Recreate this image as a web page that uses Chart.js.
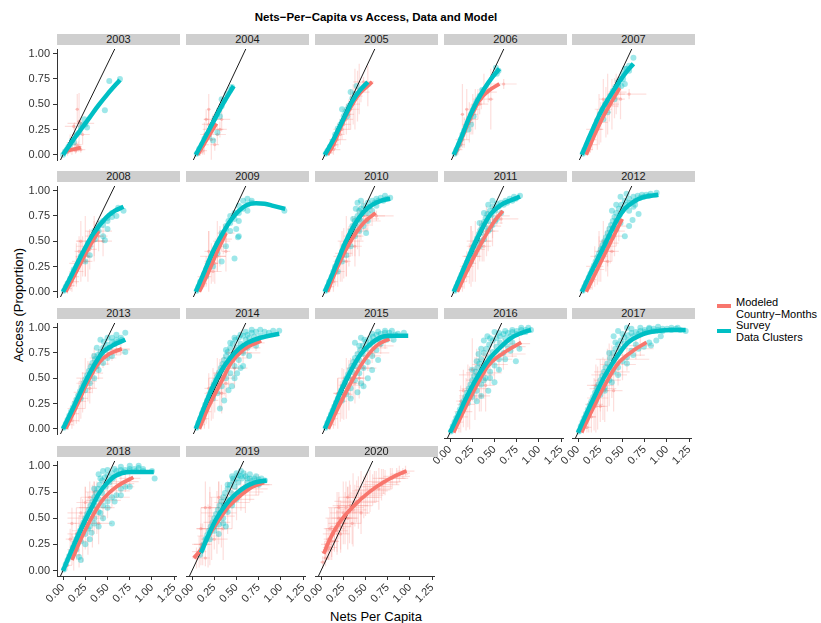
<!DOCTYPE html>
<html>
<head>
<meta charset="utf-8">
<script src="https://cdn.jsdelivr.net/npm/chart.js@4.4.0/dist/chart.umd.min.js"></script>
<style>
  body { margin: 0; background: #fff; font-family: "Liberation Sans", Arial, sans-serif; }
  #wrap { position: relative; width: 821px; height: 623px; overflow: hidden; }
  .strip { position: absolute; background: #cfcfcf; color: #1a1a1a; font-size: 11px; line-height: 11px; text-align: center; }
  canvas { position: absolute; }
  .lbl { position: absolute; white-space: nowrap; color: #000; }
  .key { position: absolute; width: 14px; height: 4px; }
</style>
</head>
<body>
<div id="wrap">
  <div class="lbl" style="left:0;width:752px;top:11px;text-align:center;font-weight:bold;font-size:11.5px;">Nets−Per−Capita vs Access, Data and Model</div>
  <div class="lbl" style="left:18px;top:305px;font-size:13px;transform:translate(-50%,-50%) rotate(-90deg);">Access (Proportion)</div>
  <div class="lbl" style="left:0;width:752px;top:609px;text-align:center;font-size:13px;">Nets Per Capita</div>
  <div class="key" style="left:717px;top:304px;background:#F8766D;"></div>
  <div class="lbl" style="left:736px;top:296px;font-size:11px;line-height:12px;">Modeled<br>Country−Months</div>
  <div class="key" style="left:717px;top:329px;background:#00BFC4;"></div>
  <div class="lbl" style="left:736px;top:319px;font-size:11px;line-height:12px;">Survey<br>Data Clusters</div>
</div>
<script>
// facet years, in panel order
const years = [2003, 2004, 2005, 2006, 2007, 2008, 2009, 2010, 2011, 2012,
               2013, 2014, 2015, 2016, 2017, 2018, 2019, 2020];

const xTicks = [0, 0.25, 0.5, 0.75, 1, 1.25];
const yTicks = [0, 0.25, 0.5, 0.75, 1];

// reference line: access = 1.8 * nets per capita
const refSlope = 1.8;
const refX = [-0.07, 0.7];

// survey data clusters, [netsPerCapita, access]
const surveyPoints = [
  [[0,0],[0.02,0.03],[0.04,0.05],[0.06,0.08],[0.08,0.1],[0.1,0.14],[0.12,0.12],[0.15,0.2],[0.18,0.22],[0.2,0.27],[0.22,0.3],[0.25,0.3],[0.27,0.27],[0.24,0.35],[0.47,0.44],[0.52,0.73],[0.64,0.75]],
  [[0.01,0.01],[0.04,0.06],[0.07,0.1],[0.1,0.16],[0.13,0.2],[0.15,0.18],[0.18,0.28],[0.2,0.3],[0.22,0.36],[0.25,0.4],[0.27,0.44],[0.3,0.48],[0.3,0.55],[0.33,0.54],[0.36,0.6],[0.4,0.64],[0.42,0.67],[0.2,0.14],[0.25,0.22],[0.28,0.38]],
  [[0.01,0.01],[0.03,0.04],[0.06,0.08],[0.09,0.13],[0.12,0.2],[0.15,0.26],[0.18,0.3],[0.2,0.33],[0.22,0.38],[0.24,0.42],[0.26,0.45],[0.28,0.48],[0.3,0.5],[0.32,0.56],[0.35,0.6],[0.3,0.62],[0.37,0.68],[0.2,0.45],[0.26,0.38]],
  [[0.01,0.01],[0.03,0.05],[0.06,0.1],[0.08,0.15],[0.1,0.2],[0.12,0.24],[0.14,0.28],[0.16,0.32],[0.18,0.36],[0.2,0.4],[0.22,0.44],[0.24,0.48],[0.26,0.52],[0.28,0.55],[0.3,0.58],[0.33,0.64],[0.17,0.25],[0.2,0.3],[0.23,0.38],[0.49,0.86],[0.52,0.83],[0.5,0.8]],
  [[0.01,0.01],[0.03,0.05],[0.06,0.1],[0.09,0.16],[0.12,0.22],[0.15,0.28],[0.18,0.34],[0.21,0.4],[0.24,0.45],[0.27,0.5],[0.3,0.54],[0.33,0.58],[0.36,0.63],[0.39,0.67],[0.42,0.72],[0.45,0.75],[0.48,0.8],[0.52,0.85],[0.55,0.88],[0.6,0.96],[0.5,0.7],[0.46,0.68],[0.3,0.42],[0.25,0.35],[0.38,0.55],
   [0.12,0.2],[0.18,0.3],[0.24,0.42],[0.3,0.5],[0.36,0.6],[0.42,0.68],[0.48,0.75],[0.5,0.85],[0.55,0.83]],
  [[0.01,0.01],[0.03,0.05],[0.05,0.08],[0.08,0.13],[0.1,0.17],[0.12,0.2],[0.15,0.25],[0.18,0.3],[0.2,0.35],[0.22,0.38],[0.25,0.42],[0.28,0.48],[0.3,0.5],[0.33,0.55],[0.35,0.6],[0.38,0.62],[0.4,0.65],[0.42,0.68],[0.45,0.7],[0.5,0.73],[0.55,0.78],[0.6,0.75],[0.62,0.83],[0.68,0.8],[0.45,0.55],[0.47,0.51],[0.3,0.36],[0.25,0.3],[0.36,0.52],[0.5,0.62],
   [0.12,0.22],[0.16,0.27],[0.2,0.32],[0.25,0.38],[0.3,0.45],[0.35,0.55],[0.4,0.6],[0.45,0.66],[0.5,0.7],[0.55,0.74]],
  [[0.01,0.01],[0.03,0.05],[0.05,0.1],[0.1,0.18],[0.15,0.25],[0.2,0.35],[0.25,0.45],[0.28,0.52],[0.3,0.58],[0.35,0.65],[0.38,0.7],[0.4,0.75],[0.45,0.78],[0.5,0.85],[0.55,0.9],[0.6,0.92],[0.65,0.88],[0.47,0.62],[0.5,0.55],[0.45,0.33],[0.49,0.54],[0.3,0.3],[0.35,0.45],[0.5,0.7],[0.6,0.8],[1.03,0.8],[0.2,0.25],[0.12,0.15],[0.25,0.38],[0.4,0.6],
   [0.12,0.22],[0.16,0.3],[0.2,0.38],[0.25,0.48],[0.3,0.55],[0.35,0.62],[0.4,0.68],[0.45,0.72],[0.5,0.78],[0.55,0.82],[0.6,0.86],[0.65,0.9]],
  [[0.01,0.01],[0.03,0.05],[0.05,0.1],[0.08,0.15],[0.1,0.2],[0.12,0.23],[0.15,0.3],[0.18,0.35],[0.2,0.4],[0.22,0.45],[0.25,0.49],[0.28,0.55],[0.3,0.6],[0.32,0.65],[0.35,0.7],[0.38,0.75],[0.4,0.8],[0.42,0.82],[0.45,0.85],[0.5,0.88],[0.55,0.9],[0.6,0.92],[0.65,0.93],[0.7,0.95],[0.76,0.93],[0.3,0.45],[0.35,0.55],[0.4,0.6],[0.45,0.65],[0.5,0.7],[0.2,0.3],[0.25,0.36],[0.38,0.88],[0.42,0.9],[0.55,0.8],[0.6,0.85],[0.48,0.58],[0.15,0.2],
   [0.12,0.25],[0.16,0.32],[0.2,0.36],[0.24,0.44],[0.27,0.5],[0.3,0.55],[0.33,0.6],[0.36,0.66],[0.4,0.72],[0.44,0.78],[0.48,0.82],[0.52,0.84],[0.58,0.88],[0.62,0.9],[0.68,0.9],[0.72,0.92],[0.36,0.82],[0.33,0.72],[0.42,0.7],[0.5,0.78]],
  [[0.01,0.01],[0.03,0.05],[0.05,0.09],[0.07,0.13],[0.09,0.17],[0.11,0.21],[0.13,0.25],[0.15,0.29],[0.17,0.33],[0.19,0.37],[0.21,0.41],[0.23,0.45],[0.25,0.49],[0.27,0.53],[0.29,0.57],[0.31,0.61],[0.33,0.65],[0.35,0.69],[0.37,0.73],[0.39,0.77],[0.42,0.8],[0.45,0.84],[0.5,0.87],[0.55,0.88],[0.6,0.9],[0.65,0.92],[0.7,0.94],[0.77,0.95],[0.15,0.22],[0.2,0.3],[0.25,0.38],[0.3,0.45],[0.35,0.52],[0.4,0.6],[0.45,0.66],[0.5,0.72],[0.4,0.86],[0.45,0.9],[0.55,0.78],[0.32,0.5],[0.22,0.36],
   [0.12,0.23],[0.16,0.3],[0.2,0.38],[0.24,0.45],[0.28,0.5],[0.32,0.58],[0.36,0.64],[0.4,0.7],[0.44,0.76],[0.48,0.8],[0.52,0.84],[0.58,0.86],[0.62,0.88],[0.68,0.9],[0.72,0.92],[0.35,0.78],[0.3,0.68],[0.42,0.62],[0.48,0.7]],
  [[0.01,0.01],[0.03,0.05],[0.05,0.09],[0.08,0.14],[0.1,0.18],[0.12,0.22],[0.14,0.26],[0.16,0.3],[0.18,0.34],[0.2,0.38],[0.22,0.42],[0.24,0.46],[0.26,0.5],[0.28,0.54],[0.3,0.58],[0.32,0.62],[0.34,0.66],[0.36,0.7],[0.38,0.74],[0.4,0.78],[0.43,0.82],[0.46,0.86],[0.5,0.9],[0.55,0.92],[0.6,0.94],[0.65,0.95],[0.7,0.96],[0.75,0.96],[0.8,0.97],[0.87,0.98],[0.2,0.3],[0.25,0.38],[0.3,0.46],[0.35,0.54],[0.4,0.62],[0.45,0.68],[0.5,0.55],[0.55,0.65],[0.59,0.71],[0.66,0.77],[0.62,0.86],[0.45,0.94],[0.52,0.97],
   [0.12,0.2],[0.16,0.27],[0.2,0.34],[0.24,0.42],[0.28,0.49],[0.32,0.55],[0.36,0.62],[0.4,0.7],[0.44,0.76],[0.48,0.82],[0.52,0.86],[0.56,0.88],[0.62,0.9],[0.68,0.93],[0.72,0.94],[0.78,0.95],[0.35,0.8],[0.4,0.86],[0.55,0.8],[0.6,0.84]],
  [[0.01,0.01],[0.03,0.05],[0.05,0.09],[0.07,0.13],[0.09,0.17],[0.11,0.21],[0.13,0.25],[0.15,0.29],[0.17,0.33],[0.19,0.37],[0.21,0.41],[0.23,0.45],[0.25,0.49],[0.27,0.53],[0.29,0.57],[0.31,0.61],[0.33,0.65],[0.36,0.69],[0.39,0.73],[0.42,0.76],[0.45,0.8],[0.5,0.83],[0.55,0.86],[0.6,0.88],[0.65,0.9],[0.7,0.95],[0.6,0.93],[0.5,0.9],[0.42,0.88],[0.2,0.3],[0.25,0.38],[0.3,0.45],[0.35,0.5],[0.4,0.58],[0.45,0.65],[0.5,0.7],[0.55,0.72],[0.7,0.76],[0.38,0.62],
   [0.12,0.2],[0.16,0.28],[0.2,0.35],[0.24,0.43],[0.28,0.5],[0.32,0.56],[0.36,0.62],[0.4,0.68],[0.44,0.73],[0.48,0.78],[0.52,0.8],[0.58,0.84],[0.62,0.86],[0.66,0.88],[0.35,0.72],[0.38,0.8],[0.46,0.86],[0.55,0.9]],
  [[0.01,0.01],[0.03,0.06],[0.05,0.1],[0.07,0.15],[0.09,0.19],[0.11,0.24],[0.13,0.28],[0.15,0.32],[0.17,0.36],[0.19,0.4],[0.21,0.44],[0.23,0.48],[0.25,0.52],[0.27,0.56],[0.29,0.6],[0.31,0.64],[0.33,0.68],[0.35,0.72],[0.37,0.76],[0.4,0.8],[0.43,0.84],[0.46,0.88],[0.5,0.9],[0.55,0.92],[0.6,0.93],[0.65,0.95],[0.7,0.96],[0.8,0.96],[0.9,0.97],[0.97,0.97],[0.2,0.3],[0.25,0.35],[0.3,0.42],[0.35,0.5],[0.4,0.55],[0.45,0.62],[0.5,0.68],[0.55,0.75],[0.6,0.8],[0.65,0.85],[0.38,0.38],[0.42,0.42],[0.28,0.2],[0.33,0.28],[0.48,0.55],[0.55,0.62],[0.62,0.72],[0.7,0.82],
   [0.12,0.22],[0.16,0.3],[0.2,0.38],[0.24,0.45],[0.28,0.52],[0.32,0.58],[0.36,0.64],[0.4,0.7],[0.44,0.75],[0.48,0.8],[0.52,0.84],[0.58,0.88],[0.62,0.9],[0.68,0.91],[0.75,0.92],[0.85,0.95],[0.4,0.85],[0.45,0.9],[0.52,0.93],[0.58,0.96],[0.65,0.98],[0.75,0.98],[0.35,0.78],[0.45,0.5],[0.52,0.6]],
  [[0.01,0.01],[0.03,0.06],[0.05,0.1],[0.07,0.14],[0.09,0.18],[0.11,0.22],[0.13,0.26],[0.15,0.3],[0.17,0.34],[0.19,0.38],[0.21,0.42],[0.23,0.46],[0.25,0.5],[0.27,0.54],[0.29,0.58],[0.31,0.62],[0.33,0.66],[0.35,0.7],[0.38,0.74],[0.41,0.78],[0.44,0.82],[0.48,0.86],[0.52,0.89],[0.56,0.91],[0.6,0.93],[0.65,0.94],[0.7,0.95],[0.75,0.95],[0.82,0.93],[0.92,0.95],[0.2,0.28],[0.25,0.34],[0.3,0.4],[0.35,0.48],[0.4,0.55],[0.45,0.6],[0.5,0.66],[0.55,0.72],[0.6,0.78],[0.65,0.84],[0.72,0.88],[0.3,0.3],[0.38,0.36],[0.45,0.42],[0.5,0.5],[0.8,0.88],[0.35,0.85],[0.42,0.9],
   [0.12,0.2],[0.16,0.28],[0.2,0.36],[0.24,0.44],[0.28,0.5],[0.32,0.56],[0.36,0.62],[0.4,0.68],[0.44,0.74],[0.48,0.79],[0.52,0.83],[0.56,0.86],[0.62,0.88],[0.68,0.9],[0.75,0.92],[0.85,0.94],[0.4,0.82],[0.46,0.88],[0.55,0.94],[0.62,0.96],[0.7,0.97],[0.78,0.97],[0.42,0.45],[0.55,0.58],[0.62,0.68]],
  [[0.01,0.01],[0.03,0.06],[0.05,0.1],[0.07,0.14],[0.09,0.18],[0.11,0.22],[0.13,0.26],[0.15,0.3],[0.17,0.34],[0.19,0.38],[0.21,0.42],[0.23,0.46],[0.25,0.5],[0.27,0.54],[0.29,0.58],[0.31,0.62],[0.33,0.66],[0.35,0.7],[0.38,0.76],[0.41,0.8],[0.44,0.84],[0.48,0.88],[0.52,0.9],[0.56,0.92],[0.6,0.94],[0.65,0.95],[0.7,0.96],[0.75,0.97],[0.8,0.98],[0.85,0.98],[0.91,0.98],[0.2,0.28],[0.25,0.34],[0.3,0.4],[0.35,0.46],[0.4,0.52],[0.45,0.58],[0.5,0.64],[0.55,0.7],[0.6,0.76],[0.65,0.82],[0.7,0.86],[0.3,0.3],[0.35,0.35],[0.43,0.4],[0.5,0.48],[0.74,0.68],[0.78,0.8],[0.42,0.92],[0.5,0.96],[0.38,0.88],[0.25,0.6],[0.32,0.75],
   [0.12,0.2],[0.16,0.28],[0.2,0.35],[0.24,0.42],[0.28,0.48],[0.32,0.54],[0.36,0.6],[0.4,0.66],[0.44,0.72],[0.48,0.77],[0.52,0.82],[0.56,0.86],[0.62,0.9],[0.68,0.92],[0.75,0.94],[0.85,0.96],[0.35,0.8],[0.45,0.9],[0.55,0.95],[0.62,0.97],[0.7,0.98],[0.8,1.0],[0.88,1.0],[0.3,0.68],[0.38,0.5],[0.45,0.52],[0.55,0.6],[0.62,0.7],[0.68,0.78],[0.25,0.38]],
  [[0.01,0.01],[0.03,0.06],[0.05,0.1],[0.07,0.14],[0.09,0.18],[0.11,0.22],[0.13,0.26],[0.15,0.3],[0.17,0.34],[0.19,0.38],[0.21,0.42],[0.23,0.46],[0.25,0.5],[0.27,0.54],[0.29,0.58],[0.31,0.62],[0.33,0.66],[0.36,0.71],[0.39,0.76],[0.42,0.8],[0.45,0.84],[0.48,0.88],[0.52,0.91],[0.56,0.93],[0.6,0.95],[0.65,0.96],[0.7,0.97],[0.75,0.98],[0.8,0.99],[0.85,0.99],[0.9,0.98],[0.95,0.99],[1.0,0.99],[1.05,0.98],[1.1,0.99],[1.15,0.98],[1.21,0.97],[0.2,0.3],[0.25,0.36],[0.3,0.43],[0.35,0.5],[0.4,0.58],[0.45,0.62],[0.5,0.68],[0.55,0.72],[0.6,0.78],[0.65,0.84],[0.74,0.82],[0.8,0.86],[0.88,0.88],[0.93,0.92],[0.4,0.92],[0.45,0.97],[0.55,1.0],[0.7,1.0],
   [0.12,0.2],[0.16,0.28],[0.2,0.35],[0.24,0.42],[0.28,0.48],[0.32,0.55],[0.36,0.62],[0.4,0.68],[0.44,0.74],[0.48,0.8],[0.52,0.85],[0.56,0.88],[0.62,0.92],[0.68,0.94],[0.75,0.96],[0.85,0.97],[0.95,0.97],[1.05,1.0],[1.12,1.0],[0.35,0.76],[0.42,0.86],[0.5,0.94],[0.6,0.99],[0.8,1.0],[0.9,1.01],[0.3,0.4],[0.38,0.48],[0.45,0.55],[0.55,0.66],[0.62,0.74],[0.68,0.8],[0.82,0.83]],
  [[0.01,0.01],[0.03,0.06],[0.05,0.1],[0.07,0.14],[0.09,0.18],[0.11,0.22],[0.13,0.26],[0.15,0.3],[0.17,0.34],[0.19,0.38],[0.21,0.42],[0.23,0.46],[0.25,0.5],[0.27,0.54],[0.29,0.58],[0.31,0.62],[0.33,0.66],[0.35,0.7],[0.37,0.74],[0.39,0.78],[0.41,0.82],[0.44,0.86],[0.47,0.89],[0.5,0.91],[0.55,0.93],[0.6,0.95],[0.65,0.96],[0.7,0.96],[0.75,0.97],[0.8,0.97],[0.85,0.98],[0.9,0.95],[1.0,0.95],[1.03,0.88],[0.15,0.2],[0.2,0.28],[0.25,0.35],[0.3,0.42],[0.35,0.5],[0.4,0.56],[0.45,0.62],[0.5,0.66],[0.55,0.7],[0.6,0.72],[0.65,0.78],[0.7,0.8],[0.75,0.8],[0.55,0.45],[0.45,0.5],[0.3,0.3],[0.25,0.25],[0.2,0.1],[0.18,0.13],[0.4,0.92],[0.45,0.95],
   [0.12,0.22],[0.16,0.3],[0.2,0.36],[0.24,0.44],[0.28,0.5],[0.32,0.56],[0.36,0.62],[0.4,0.68],[0.44,0.74],[0.48,0.8],[0.52,0.84],[0.56,0.88],[0.62,0.92],[0.68,0.94],[0.75,0.95],[0.82,0.95],[0.9,0.97],[0.35,0.78],[0.42,0.88],[0.5,0.96],[0.58,0.97],[0.65,0.99],[0.75,1.0],[0.85,1.0],[0.28,0.4],[0.35,0.45],[0.42,0.55],[0.5,0.6],[0.58,0.66],[0.65,0.72],[0.32,0.36],[0.4,0.42]],
  [[0.09,0.15],[0.11,0.2],[0.13,0.25],[0.15,0.3],[0.17,0.34],[0.19,0.38],[0.21,0.42],[0.23,0.46],[0.25,0.5],[0.27,0.54],[0.29,0.58],[0.31,0.62],[0.33,0.66],[0.35,0.7],[0.37,0.74],[0.4,0.78],[0.43,0.82],[0.46,0.85],[0.5,0.88],[0.55,0.9],[0.6,0.9],[0.65,0.88],[0.7,0.88],[0.75,0.87],[0.82,0.86],[0.2,0.3],[0.25,0.38],[0.3,0.44],[0.35,0.5],[0.4,0.56],[0.45,0.62],[0.5,0.68],[0.55,0.74],[0.6,0.78],[0.65,0.8],[0.7,0.82],[0.5,0.93],[0.55,0.95],[0.45,0.9],[0.38,0.42],[0.3,0.35],[0.62,0.84],[0.75,0.82],
   [0.12,0.22],[0.16,0.3],[0.2,0.36],[0.24,0.42],[0.28,0.48],[0.32,0.55],[0.36,0.62],[0.4,0.68],[0.44,0.74],[0.48,0.8],[0.52,0.84],[0.56,0.88],[0.62,0.88],[0.68,0.86],[0.75,0.85],[0.4,0.82],[0.46,0.88],[0.52,0.91],[0.58,0.93],[0.65,0.92],[0.72,0.9],[0.78,0.88],[0.3,0.5],[0.38,0.58],[0.45,0.65],[0.52,0.72],[0.58,0.76],[0.25,0.42],[0.35,0.45]],
  []
];

// modelled country-months, [netsPerCapita, access, npcError, accessError]
const modelBars = [
  [[0.18,0.33,0.02,0.28],[0.2,0.31,0.15,0.03],[0.15,0.1,0.06,0.08],[0.1,0.05,0.06,0.05],[0.2,0.05,0.05,0.03],[0.22,0.2,0.08,0.1],[0.05,0.02,0.04,0.03],[0.13,0.2,0.03,0.12],[0.17,0.08,0.04,0.05],
   [0.12,0.28,0.1,0.03],[0.16,0.45,0.02,0.15],[0.08,0.12,0.04,0.08],[0.14,0.04,0.06,0.03]],
  [[0.15,0.3,0.08,0.15],[0.2,0.25,0.12,0.05],[0.25,0.2,0.1,0.1],[0.1,0.1,0.05,0.1],[0.18,0.15,0.05,0.2],[0.3,0.35,0.1,0.12],[0.12,0.35,0.03,0.1],[0.22,0.1,0.05,0.06],[0.08,0.04,0.05,0.04],
   [0.1,0.2,0.05,0.12],[0.15,0.45,0.02,0.15],[0.28,0.25,0.08,0.08],[0.05,0.02,0.04,0.03],[0.2,0.35,0.1,0.05]],
  [[0.45,0.72,0.12,0.05],[0.4,0.65,0.05,0.25],[0.35,0.55,0.05,0.3],[0.3,0.45,0.1,0.2],[0.25,0.35,0.08,0.15],[0.2,0.25,0.1,0.1],[0.15,0.15,0.1,0.08],[0.1,0.05,0.08,0.05],[0.05,0.02,0.04,0.03],[0.5,0.68,0.04,0.2],[0.12,0.1,0.04,0.04],
   [0.18,0.2,0.05,0.1],[0.22,0.3,0.08,0.1],[0.28,0.4,0.06,0.15],[0.33,0.5,0.08,0.2],[0.38,0.58,0.06,0.25],[0.08,0.06,0.05,0.05],[0.42,0.62,0.1,0.1]],
  [[0.58,0.7,0.15,0.05],[0.43,0.55,0.03,0.3],[0.1,0.4,0.02,0.3],[0.15,0.3,0.05,0.15],[0.2,0.35,0.08,0.15],[0.25,0.45,0.05,0.2],[0.1,0.15,0.08,0.08],[0.05,0.05,0.05,0.05],[0.3,0.5,0.1,0.1],[0.35,0.65,0.05,0.15],
   [0.12,0.22,0.04,0.15],[0.18,0.32,0.05,0.2],[0.22,0.4,0.06,0.2],[0.28,0.5,0.05,0.15],[0.15,0.45,0.02,0.2],[0.08,0.1,0.05,0.05],[0.32,0.55,0.1,0.1],[0.4,0.62,0.1,0.1]],
  [[0.55,0.6,0.2,0.05],[0.3,0.5,0.05,0.3],[0.2,0.35,0.05,0.25],[0.15,0.25,0.1,0.1],[0.25,0.45,0.1,0.1],[0.35,0.5,0.08,0.25],[0.4,0.6,0.1,0.2],[0.1,0.1,0.08,0.08],[0.45,0.55,0.05,0.2],[0.05,0.03,0.05,0.04],
   [0.12,0.15,0.05,0.1],[0.18,0.25,0.06,0.2],[0.22,0.32,0.08,0.2],[0.28,0.42,0.06,0.25],[0.32,0.48,0.1,0.15],[0.38,0.56,0.08,0.2],[0.42,0.62,0.1,0.15],[0.08,0.05,0.05,0.05],[0.25,0.55,0.05,0.2]],
  [[0.25,0.45,0.1,0.3],[0.3,0.5,0.15,0.1],[0.2,0.3,0.1,0.2],[0.15,0.2,0.08,0.15],[0.35,0.55,0.1,0.2],[0.4,0.6,0.15,0.1],[0.1,0.1,0.08,0.1],[0.28,0.35,0.05,0.25],[0.45,0.5,0.1,0.15],[0.18,0.4,0.05,0.15],[0.05,0.03,0.05,0.05],
   [0.12,0.15,0.06,0.1],[0.22,0.35,0.08,0.2],[0.3,0.42,0.08,0.2],[0.35,0.5,0.1,0.2],[0.4,0.55,0.1,0.15],[0.08,0.06,0.05,0.05],[0.2,0.5,0.05,0.2],[0.15,0.28,0.08,0.2],[0.25,0.3,0.08,0.15]],
  [[0.15,0.3,0.05,0.3],[0.2,0.35,0.15,0.1],[0.25,0.45,0.05,0.25],[0.1,0.15,0.08,0.1],[0.3,0.5,0.1,0.1],[0.35,0.4,0.05,0.2],[0.05,0.05,0.05,0.05],[0.2,0.2,0.1,0.1],[0.22,0.28,0.04,0.2],
   [0.12,0.2,0.05,0.15],[0.18,0.28,0.08,0.2],[0.28,0.45,0.08,0.2],[0.32,0.52,0.1,0.15],[0.08,0.08,0.05,0.05],[0.25,0.35,0.1,0.15],[0.15,0.4,0.05,0.2],[0.35,0.58,0.1,0.1]],
  [[0.2,0.35,0.1,0.25],[0.3,0.5,0.15,0.15],[0.4,0.6,0.1,0.25],[0.5,0.7,0.15,0.1],[0.6,0.75,0.2,0.05],[0.15,0.2,0.08,0.15],[0.25,0.45,0.05,0.3],[0.35,0.55,0.1,0.2],[0.1,0.1,0.05,0.1],[0.45,0.75,0.05,0.15],
   [0.12,0.18,0.06,0.12],[0.18,0.3,0.08,0.2],[0.22,0.38,0.1,0.25],[0.28,0.45,0.08,0.2],[0.32,0.55,0.1,0.2],[0.38,0.62,0.12,0.2],[0.42,0.66,0.12,0.15],[0.48,0.72,0.15,0.12],[0.55,0.75,0.15,0.1],[0.06,0.05,0.05,0.05],[0.25,0.3,0.05,0.15],[0.35,0.45,0.08,0.2]],
  [[0.2,0.35,0.1,0.3],[0.3,0.5,0.15,0.2],[0.45,0.65,0.1,0.2],[0.55,0.72,0.2,0.05],[0.15,0.25,0.08,0.15],[0.25,0.4,0.05,0.3],[0.38,0.6,0.1,0.25],[0.1,0.1,0.05,0.1],
   [0.12,0.15,0.06,0.12],[0.18,0.28,0.08,0.2],[0.22,0.35,0.1,0.25],[0.28,0.42,0.08,0.2],[0.33,0.5,0.1,0.2],[0.4,0.6,0.12,0.2],[0.45,0.68,0.12,0.15],[0.5,0.75,0.15,0.1],[0.06,0.05,0.05,0.05],[0.2,0.45,0.05,0.2],[0.35,0.45,0.08,0.15]],
  [[0.2,0.35,0.1,0.25],[0.3,0.45,0.1,0.2],[0.15,0.25,0.1,0.2],[0.4,0.6,0.1,0.15],[0.25,0.5,0.05,0.2],[0.1,0.1,0.05,0.08],[0.35,0.4,0.08,0.1],
   [0.12,0.12,0.05,0.1],[0.18,0.22,0.08,0.15],[0.22,0.3,0.08,0.2],[0.28,0.4,0.1,0.2],[0.33,0.48,0.1,0.2],[0.38,0.55,0.1,0.2],[0.43,0.65,0.1,0.15],[0.07,0.04,0.05,0.05],[0.2,0.4,0.05,0.15],[0.3,0.3,0.05,0.15]],
  [[0.25,0.45,0.1,0.25],[0.3,0.5,0.15,0.15],[0.45,0.7,0.15,0.1],[0.6,0.78,0.15,0.05],[0.15,0.2,0.1,0.15],[0.35,0.6,0.05,0.2],[0.1,0.08,0.08,0.08],[0.2,0.3,0.08,0.2],
   [0.12,0.15,0.06,0.12],[0.18,0.27,0.08,0.2],[0.22,0.36,0.1,0.2],[0.28,0.47,0.1,0.2],[0.33,0.55,0.12,0.2],[0.4,0.64,0.12,0.15],[0.5,0.73,0.15,0.1],[0.55,0.75,0.15,0.08],[0.65,0.79,0.1,0.06],[0.06,0.04,0.05,0.05],[0.3,0.4,0.08,0.15]],
  [[0.2,0.35,0.1,0.25],[0.3,0.5,0.15,0.2],[0.15,0.25,0.05,0.25],[0.45,0.6,0.15,0.2],[0.55,0.75,0.2,0.1],[0.1,0.1,0.05,0.1],[0.35,0.45,0.1,0.15],[0.25,0.55,0.05,0.15],
   [0.12,0.17,0.06,0.12],[0.18,0.28,0.08,0.2],[0.22,0.36,0.1,0.2],[0.28,0.44,0.12,0.25],[0.33,0.53,0.12,0.2],[0.38,0.6,0.12,0.2],[0.45,0.7,0.15,0.15],[0.5,0.75,0.15,0.12],[0.6,0.8,0.15,0.1],[0.7,0.85,0.1,0.08],[0.06,0.04,0.05,0.05],[0.15,0.4,0.05,0.15],[0.3,0.35,0.05,0.2]],
  [[0.2,0.35,0.1,0.25],[0.3,0.5,0.15,0.2],[0.15,0.25,0.05,0.25],[0.45,0.6,0.15,0.2],[0.55,0.75,0.2,0.1],[0.1,0.1,0.05,0.1],[0.35,0.45,0.1,0.2],[0.25,0.4,0.05,0.3],[0.65,0.82,0.15,0.08],
   [0.12,0.15,0.06,0.12],[0.18,0.27,0.08,0.2],[0.22,0.34,0.1,0.25],[0.28,0.43,0.12,0.25],[0.33,0.5,0.12,0.2],[0.4,0.6,0.15,0.2],[0.5,0.72,0.15,0.15],[0.58,0.8,0.15,0.1],[0.7,0.87,0.1,0.08],[0.06,0.04,0.05,0.05],[0.15,0.35,0.05,0.15],[0.4,0.5,0.08,0.2]],
  [[0.2,0.35,0.1,0.3],[0.3,0.55,0.2,0.25],[0.15,0.2,0.1,0.15],[0.45,0.65,0.2,0.2],[0.6,0.75,0.25,0.15],[0.25,0.6,0.05,0.3],[0.1,0.1,0.05,0.1],[0.4,0.45,0.1,0.25],
   [0.12,0.15,0.08,0.15],[0.18,0.27,0.1,0.25],[0.22,0.33,0.12,0.3],[0.28,0.42,0.15,0.3],[0.33,0.5,0.15,0.3],[0.38,0.57,0.2,0.25],[0.5,0.7,0.2,0.2],[0.55,0.73,0.2,0.15],[0.7,0.82,0.15,0.1],[0.78,0.85,0.12,0.06],[0.06,0.04,0.05,0.05],[0.15,0.4,0.05,0.2],[0.35,0.35,0.1,0.15],[0.12,0.3,0.05,0.15]],
  [[0.25,0.45,0.15,0.25],[0.2,0.25,0.1,0.25],[0.35,0.55,0.2,0.3],[0.5,0.7,0.3,0.2],[0.65,0.8,0.2,0.1],[0.15,0.15,0.05,0.15],[0.3,0.4,0.05,0.3],[0.1,0.05,0.05,0.05],
   [0.12,0.15,0.08,0.15],[0.18,0.27,0.1,0.25],[0.22,0.33,0.12,0.3],[0.28,0.42,0.15,0.3],[0.33,0.5,0.15,0.3],[0.38,0.58,0.2,0.25],[0.45,0.65,0.2,0.2],[0.55,0.74,0.2,0.15],[0.7,0.83,0.15,0.1],[0.06,0.04,0.05,0.05],[0.2,0.45,0.05,0.2],[0.25,0.25,0.08,0.15],[0.4,0.4,0.1,0.2]],
  [[0.15,0.35,0.1,0.25],[0.25,0.5,0.2,0.3],[0.35,0.6,0.2,0.25],[0.5,0.7,0.25,0.2],[0.6,0.8,0.2,0.1],[0.1,0.2,0.05,0.15],[0.2,0.55,0.15,0.15],[0.3,0.7,0.1,0.15],[0.05,0.05,0.05,0.05],[0.15,0.32,0.05,0.05],[0.4,0.45,0.15,0.2],[0.7,0.85,0.15,0.1],
   [0.12,0.15,0.08,0.15],[0.18,0.28,0.1,0.25],[0.22,0.38,0.12,0.3],[0.28,0.45,0.15,0.3],[0.33,0.52,0.15,0.3],[0.38,0.6,0.2,0.25],[0.45,0.67,0.2,0.2],[0.55,0.76,0.2,0.15],[0.65,0.83,0.15,0.1],[0.75,0.88,0.12,0.08],[0.1,0.45,0.05,0.15],[0.25,0.65,0.1,0.15],[0.35,0.75,0.1,0.1],[0.08,0.3,0.05,0.1]],
  [[0.1,0.25,0.1,0.2],[0.2,0.4,0.15,0.35],[0.3,0.55,0.2,0.3],[0.45,0.65,0.2,0.25],[0.6,0.75,0.2,0.2],[0.75,0.82,0.15,0.1],[0.05,0.12,0.05,0.1],[0.15,0.6,0.05,0.25],[0.35,0.4,0.1,0.3],[0.25,0.3,0.15,0.1],
   [0.08,0.18,0.08,0.15],[0.12,0.25,0.1,0.2],[0.18,0.33,0.12,0.3],[0.22,0.4,0.12,0.3],[0.28,0.46,0.15,0.3],[0.33,0.52,0.15,0.3],[0.4,0.6,0.2,0.25],[0.5,0.68,0.2,0.2],[0.55,0.72,0.2,0.15],[0.65,0.78,0.2,0.12],[0.72,0.82,0.15,0.1],[0.1,0.4,0.05,0.2],[0.2,0.6,0.1,0.2],[0.15,0.12,0.05,0.08],[0.3,0.7,0.1,0.15]],
  [[0.02,0.08,0.03,0.06],[0.04,0.18,0.04,0.1],[0.06,0.25,0.06,0.15],[0.08,0.3,0.05,0.2],[0.1,0.22,0.08,0.12],[0.12,0.35,0.1,0.25],[0.15,0.4,0.12,0.2],[0.18,0.45,0.1,0.3],[0.2,0.5,0.15,0.2],[0.22,0.35,0.1,0.15],[0.25,0.55,0.15,0.3],[0.28,0.6,0.2,0.25],[0.3,0.5,0.1,0.3],[0.33,0.62,0.2,0.2],[0.36,0.58,0.15,0.35],[0.4,0.66,0.25,0.2],[0.45,0.7,0.2,0.25],[0.5,0.72,0.2,0.2],[0.55,0.76,0.2,0.2],[0.6,0.8,0.2,0.15],[0.65,0.78,0.15,0.2],[0.7,0.85,0.2,0.12],[0.78,0.88,0.2,0.1],[0.85,0.9,0.15,0.08],[0.95,0.95,0.1,0.05],[0.25,0.45,0.05,0.1],[0.15,0.28,0.05,0.1],
   [0.05,0.12,0.04,0.08],[0.08,0.2,0.06,0.1],[0.12,0.28,0.08,0.15],[0.18,0.38,0.12,0.2],[0.22,0.42,0.12,0.25],[0.27,0.5,0.15,0.25],[0.32,0.56,0.15,0.3],[0.38,0.62,0.2,0.2],[0.42,0.65,0.2,0.25],[0.48,0.7,0.2,0.2],[0.52,0.74,0.2,0.2],[0.58,0.77,0.2,0.15],[0.62,0.8,0.15,0.15],[0.68,0.82,0.2,0.15],[0.72,0.84,0.15,0.12],[0.8,0.88,0.15,0.1],[0.88,0.92,0.1,0.08],[0.92,0.93,0.08,0.05],[0.1,0.4,0.05,0.2],[0.2,0.6,0.05,0.15],[0.3,0.7,0.1,0.1],[0.35,0.45,0.1,0.2],[0.45,0.55,0.1,0.2]]
];

// fitted curves
const surveyFit = [
  [[0,0],[0.1,0.13],[0.2,0.25],[0.3,0.37],[0.4,0.49],[0.5,0.6],[0.64,0.74]],
  [[0,0],[0.1,0.16],[0.2,0.32],[0.3,0.48],[0.44,0.68]],
  [[0,0],[0.1,0.15],[0.18,0.29],[0.25,0.41],[0.32,0.53],[0.4,0.63],[0.5,0.72]],
  [[0,0],[0.1,0.2],[0.18,0.37],[0.27,0.53],[0.36,0.66],[0.45,0.77],[0.53,0.85]],
  [[0,0],[0.1,0.2],[0.23,0.44],[0.32,0.57],[0.41,0.69],[0.5,0.8],[0.6,0.9]],
  [[0,0],[0.1,0.17],[0.2,0.35],[0.33,0.56],[0.48,0.73],[0.58,0.8],[0.68,0.84]],
  [[0,0],[0.1,0.2],[0.2,0.4],[0.3,0.56],[0.4,0.7],[0.5,0.8],[0.6,0.86],[0.7,0.875],[0.8,0.87],[0.9,0.85],[1.04,0.82]],
  [[0,0],[0.1,0.2],[0.24,0.49],[0.35,0.67],[0.45,0.79],[0.55,0.86],[0.65,0.9],[0.76,0.92]],
  [[0,0],[0.1,0.2],[0.25,0.49],[0.35,0.66],[0.43,0.77],[0.55,0.86],[0.65,0.9],[0.77,0.94]],
  [[0,0],[0.1,0.18],[0.23,0.4],[0.32,0.56],[0.41,0.71],[0.5,0.82],[0.6,0.89],[0.7,0.93],[0.89,0.96]],
  [[0,0],[0.1,0.18],[0.26,0.48],[0.35,0.63],[0.44,0.75],[0.55,0.82],[0.7,0.88]],
  [[0,0],[0.1,0.22],[0.2,0.42],[0.3,0.58],[0.4,0.7],[0.5,0.79],[0.6,0.85],[0.75,0.9],[0.97,0.94]],
  [[0,0],[0.1,0.2],[0.2,0.4],[0.3,0.57],[0.42,0.74],[0.55,0.85],[0.67,0.91],[0.8,0.92],[0.97,0.92]],
  [[0,0],[0.1,0.18],[0.2,0.36],[0.3,0.52],[0.43,0.69],[0.55,0.8],[0.68,0.9],[0.8,0.95],[0.91,0.98]],
  [[0,0],[0.1,0.19],[0.2,0.37],[0.3,0.54],[0.41,0.69],[0.55,0.85],[0.73,0.94],[0.9,0.97],[1.05,0.98],[1.21,0.98]],
  [[0,0],[0.1,0.2],[0.23,0.45],[0.32,0.6],[0.4,0.73],[0.5,0.84],[0.58,0.9],[0.76,0.94],[1.02,0.94]],
  [[0.1,0.17],[0.18,0.33],[0.27,0.49],[0.38,0.63],[0.49,0.73],[0.6,0.8],[0.7,0.84],[0.84,0.86]],
  []
];

const modelFit = [
  [[0.01,0.03],[0.1,0.05],[0.2,0.07]],
  [[0.02,0],[0.12,0.14],[0.24,0.31]],
  [[0.03,0],[0.1,0.1],[0.2,0.3],[0.3,0.47],[0.4,0.6],[0.55,0.72]],
  [[0.01,0],[0.1,0.18],[0.2,0.38],[0.3,0.54],[0.4,0.63],[0.53,0.7]],
  [[0.05,0],[0.15,0.2],[0.25,0.38],[0.35,0.53],[0.44,0.66]],
  [[0.03,0],[0.15,0.2],[0.28,0.42],[0.4,0.6]],
  [[0.04,0],[0.15,0.2],[0.25,0.4],[0.35,0.58]],
  [[0.03,0],[0.15,0.25],[0.3,0.5],[0.45,0.68],[0.59,0.78]],
  [[0.04,0],[0.15,0.2],[0.3,0.45],[0.45,0.67],[0.57,0.8]],
  [[0.05,0],[0.15,0.17],[0.3,0.43],[0.47,0.72]],
  [[0.03,0],[0.15,0.22],[0.28,0.47],[0.4,0.65],[0.52,0.74],[0.66,0.79]],
  [[0.04,0],[0.15,0.22],[0.3,0.47],[0.41,0.65],[0.55,0.78],[0.76,0.87]],
  [[0.04,0],[0.15,0.2],[0.3,0.45],[0.46,0.68],[0.6,0.82],[0.75,0.89]],
  [[0.04,0],[0.15,0.2],[0.3,0.45],[0.43,0.64],[0.6,0.76],[0.8,0.86]],
  [[0.04,0],[0.15,0.2],[0.3,0.45],[0.44,0.65],[0.6,0.77],[0.77,0.86]],
  [[0.1,0.1],[0.2,0.3],[0.3,0.47],[0.44,0.67],[0.6,0.8],[0.79,0.89]],
  [[0.02,0.12],[0.1,0.2],[0.2,0.35],[0.3,0.48],[0.4,0.6],[0.55,0.72],[0.68,0.8],[0.81,0.84]],
  [[0.03,0.16],[0.1,0.3],[0.2,0.45],[0.36,0.61],[0.5,0.72],[0.64,0.81],[0.8,0.89],[0.96,0.95]]
];

const RED = '#F8766D', TEAL = '#00BFC4';
const X_MIN = -0.068, X_MAX = 1.27, Y_MIN = -0.052, Y_MAX = 1.046;

// panel grid in pixels
const colLeft = [57, 186, 315, 444, 572];
const rowTop = [34, 171, 308, 446];
const STRIP_H = 11, PANEL_W = 123, PANEL_H = 119;
const AXIS_W = 57, AXIS_H = 46, LABEL_ROOM = 22;

Chart.defaults.font.family = '"Liberation Sans", Arial, sans-serif';

// draws the horizontal + vertical error bars under the model points
const errorBars = {
  id: 'errorBars',
  beforeDatasetsDraw(chart) {
    const ds = chart.data.datasets.find(d => d.errorBars);
    if (!ds) return;
    const { ctx, chartArea: a, scales: { x, y } } = chart;
    ctx.save();
    ctx.beginPath();
    ctx.rect(a.left, a.top, a.width, a.height);
    ctx.clip();
    ctx.strokeStyle = 'rgba(248,118,109,0.24)';
    ctx.lineWidth = 1.2;
    ds.data.forEach(p => {
      const px = x.getPixelForValue(p.x), py = y.getPixelForValue(p.y);
      ctx.beginPath();
      ctx.moveTo(x.getPixelForValue(p.x - p.xe), py);
      ctx.lineTo(x.getPixelForValue(p.x + p.xe), py);
      ctx.moveTo(px, y.getPixelForValue(p.y - p.ye));
      ctx.lineTo(px, y.getPixelForValue(p.y + p.ye));
      ctx.stroke();
    });
    ctx.restore();
  }
};

const wrap = document.getElementById('wrap');
const toXY = arr => arr.map(([x, y]) => ({ x, y }));

years.forEach((year, i) => {
  const col = i % 5, row = Math.floor(i / 5);
  const isLeft = col === 0;
  const isBottom = i + 5 >= years.length;

  const strip = document.createElement('div');
  strip.className = 'strip';
  strip.style.left = colLeft[col] + 'px';
  strip.style.top = rowTop[row] + 'px';
  strip.style.width = PANEL_W + 'px';
  strip.style.height = STRIP_H + 'px';
  strip.textContent = year;
  wrap.appendChild(strip);

  const padL = isLeft ? AXIS_W : (isBottom ? LABEL_ROOM : 0);
  const padB = isBottom ? AXIS_H : 0;
  const canvas = document.createElement('canvas');
  canvas.width = PANEL_W + padL;
  canvas.height = PANEL_H + padB;
  canvas.style.left = (colLeft[col] - padL) + 'px';
  canvas.style.top = (rowTop[row] + STRIP_H) + 'px';
  wrap.appendChild(canvas);

  new Chart(canvas, {
    type: 'scatter',
    data: {
      datasets: [
        {
          data: toXY(surveyFit[i]), showLine: true, borderColor: TEAL, borderWidth: 4.5,
          pointRadius: 0, cubicInterpolationMode: 'monotone', order: 1
        },
        {
          data: toXY(modelFit[i]), showLine: true, borderColor: RED, borderWidth: 3.8,
          pointRadius: 0, cubicInterpolationMode: 'monotone', order: 2
        },
        {
          data: refX.map(x => ({ x, y: refSlope * x })), showLine: true,
          borderColor: '#000', borderWidth: 0.9, pointRadius: 0, order: 3
        },
        {
          data: toXY(surveyPoints[i]), pointRadius: 3, borderWidth: 0,
          backgroundColor: 'rgba(0,191,196,0.38)', order: 4
        },
        {
          data: modelBars[i].map(([x, y, xe, ye]) => ({ x, y, xe, ye })), errorBars: true,
          pointRadius: 1.6, borderWidth: 0, backgroundColor: 'rgba(248,118,109,0.4)', order: 5
        }
      ]
    },
    options: {
      responsive: false,
      animation: false,
      events: [],
      layout: { padding: { left: isLeft ? 0 : padL, right: 0, top: 0, bottom: 0 } },
      plugins: { legend: { display: false }, tooltip: { enabled: false } },
      scales: {
        x: {
          type: 'linear', min: X_MIN, max: X_MAX, display: isBottom,
          afterBuildTicks: s => { s.ticks = xTicks.map(v => ({ value: v })); },
          afterFit: s => {
            if (isBottom) s.height = AXIS_H;
            s.paddingLeft = 0; s.paddingRight = 0;
          },
          ticks: {
            autoSkip: false, minRotation: 45, maxRotation: 45, padding: 1,
            color: '#333', font: { size: 11 }, callback: v => v.toFixed(2)
          },
          grid: { drawOnChartArea: false, tickLength: 4, color: '#333' },
          border: { display: true, color: '#333', width: 1 }
        },
        y: {
          type: 'linear', min: Y_MIN, max: Y_MAX, display: isLeft,
          afterBuildTicks: s => { s.ticks = yTicks.map(v => ({ value: v })); },
          afterFit: s => {
            if (isLeft) s.width = AXIS_W;
            s.paddingTop = 0; s.paddingBottom = 0;
          },
          ticks: { padding: 3, color: '#333', font: { size: 11 }, callback: v => v.toFixed(2) },
          grid: { drawOnChartArea: false, tickLength: 4, color: '#333' },
          border: { display: true, color: '#333', width: 1 }
        }
      }
    },
    plugins: [errorBars]
  });
});
</script>
</body>
</html>
